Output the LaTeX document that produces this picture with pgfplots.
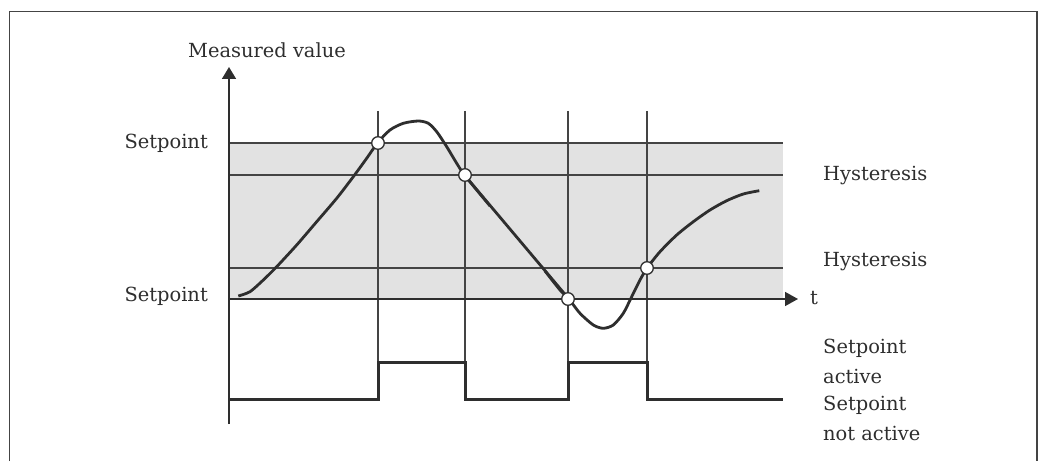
\documentclass[border=0pt]{standalone}
\usepackage{fontspec}
\setmainfont{DejaVu Serif}
\usepackage{pgfplots}
\pgfplotsset{compat=1.18}
\usetikzlibrary{arrows.meta}
\definecolor{ink}{HTML}{2E2E2E}
\definecolor{gridc}{HTML}{444444}
\definecolor{band}{HTML}{E2E2E2}
\tikzset{lab/.style={text=ink, font=\fontsize{19.5}{22}\selectfont, inner sep=0pt}}
\begin{document}
\begin{tikzpicture}
\begin{axis}[
  width=1041bp, height=461bp, scale only axis,
  xmin=0, xmax=1041, ymin=0, ymax=461, y dir=reverse,
  hide axis, clip=false,
]
% bounding
\addplot[draw=none] coordinates {(0,0) (1041,461)};
% frame
\addplot[gridc, line width=1.5bp] coordinates {(9.5,461) (9.5,11.5) (1037,11.5) (1037,461)};
% band
\addplot[fill=band, draw=none] coordinates {(229,143) (783,143) (783,299) (229,299)} -- cycle;
% horizontal lines
\addplot[gridc, line width=1.5bp] coordinates {(229,143) (783,143)};
\addplot[gridc, line width=1.5bp] coordinates {(229,175) (783,175)};
\addplot[gridc, line width=1.5bp] coordinates {(229,268) (783,268)};
% vertical lines
\addplot[gridc, line width=1.5bp] coordinates {(378,111) (378,399)};
\addplot[gridc, line width=1.5bp] coordinates {(465,111) (465,399)};
\addplot[gridc, line width=1.5bp] coordinates {(568,111) (568,399)};
\addplot[gridc, line width=1.5bp] coordinates {(647,111) (647,399)};
% axes
\addplot[ink, line width=1.6bp, -{Triangle[width=14bp,length=12bp]}] coordinates {(229,424) (229,67)};
\addplot[ink, line width=1.6bp, -{Triangle[width=14bp,length=13bp]}] coordinates {(229,299) (798,299)};
% step
\addplot[ink, line width=3bp] coordinates {(229,399) (378,399) (378,362) (465,362) (465,399) (568,399) (568,362) (647,362) (647,399) (783,399)};
% curve
\addplot[ink, line width=2.8bp, smooth, tension=0.45] coordinates {
(238.3,296) (250,291.7) (263.3,280) (276.7,266.7) (296.7,245) (316.7,221.7) (336.7,198.3) (353.3,176.7) (366.7,158.3) (377.7,142.7) (390,130) (403.3,123.3) (418.3,121) (428.3,123.3) (436.7,131.7) (446.7,146.7) (456.7,163.3) (465,175.7) (490,206)};
\addplot[ink, line width=2.8bp] coordinates {(465,175.7) (568.3,298.3)};
\addplot[ink, line width=2.8bp, smooth, tension=0.45] coordinates {
(545,271) (560,290) (568.3,298.3) (580,313.3) (593.3,325) (603.3,328.3) (613.3,325) (623.3,313.3) (631.7,296.7) (640,280) (647.3,267.7) (660,251.7) (676.7,235) (693.3,221.7) (710,210) (726.7,200.7) (743.3,194) (759.3,190.7)};
% switching points
\addplot[only marks, mark=*, mark size=6.3bp, mark options={fill=white, draw=ink, line width=1.3bp}] coordinates {(378,143) (465,175) (568,299) (647,268)};
% labels
\node[lab] at (axis cs:267,50) {Measured value};
\node[lab, anchor=east] at (axis cs:208,143) {Setpoint};
\node[lab, anchor=east] at (axis cs:208,296) {Setpoint};
\node[lab, anchor=west] at (axis cs:823,176) {Hysteresis};
\node[lab, anchor=west] at (axis cs:823,262) {Hysteresis};
\node[lab, anchor=west] at (axis cs:810,298) {t};
\node[lab, anchor=west] at (axis cs:823,348) {Setpoint};
\node[lab, anchor=west] at (axis cs:823,376) {active};
\node[lab, anchor=west] at (axis cs:823,405) {Setpoint};
\node[lab, anchor=west] at (axis cs:823,433) {not active};
\end{axis}
\end{tikzpicture}
\end{document}
